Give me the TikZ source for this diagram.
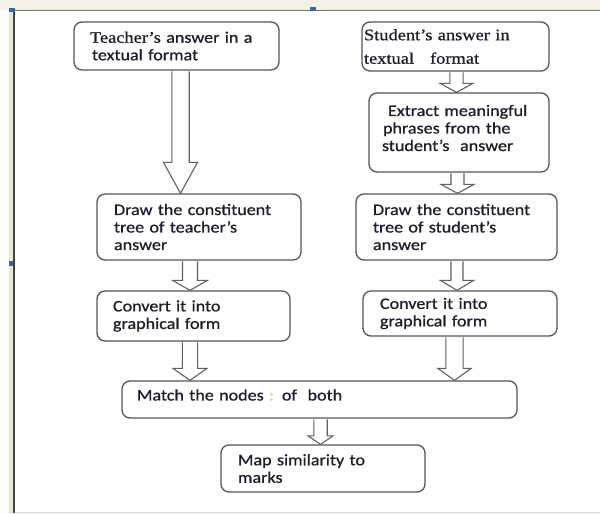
\documentclass[tikz,border=0pt]{standalone}
\usepackage{fontspec}
\setmainfont{Carlito}[FakeStretch=1.13,FakeBold=0.7]
\newfontfamily\camb{Liberation Serif}[FakeStretch=1.15,FakeBold=0.7]
\usetikzlibrary{calc}
\definecolor{boxline}{HTML}{555555}
\definecolor{arrline}{HTML}{606060}
\definecolor{txt}{HTML}{1C1C2A}
\definecolor{topstrip}{HTML}{F4F1E6}
\definecolor{leftstrip}{HTML}{EDE6D0}
\definecolor{topline}{HTML}{777777}
\definecolor{leftline}{HTML}{3C4650}
\definecolor{botline}{HTML}{D6D6D6}
\definecolor{bluemark}{HTML}{3E64A0}
\definecolor{faint}{HTML}{E8C8A0}
\tikzset{
  box/.style={draw=boxline, line width=1.3pt, rounded corners=8pt, fill=white,
    inner xsep=0pt, inner ysep=0pt, align=left, text=txt,
    font=\fontsize{16pt}{17.5pt}\selectfont},
  blockarr/.style={draw=arrline, line width=1.1pt, fill=white, line join=miter}
}
\newcommand{\barrow}[6]{%
  \draw[blockarr] let \p1=(#2.south), \p2=(#3.north) in
    (#1pt-#4pt,\y1-0.6pt) -- (#1pt-#4pt,\y2+#6pt) -- (#1pt-#5pt,\y2+#6pt)
    -- (#1pt,\y2) -- (#1pt+#5pt,\y2+#6pt) -- (#1pt+#4pt,\y2+#6pt)
    -- (#1pt+#4pt,\y1-0.6pt);}
\begin{document}
\begin{tikzpicture}[x=1pt,y=-1pt]
\useasboundingbox (0,0) rectangle (600,514);
% window frame
\fill[topstrip] (0,0) rectangle (600,9.5);
\fill[leftstrip] (9,9.5) rectangle (13.2,514);
\draw[line width=1.4pt, topline] (13,10.2) -- (600,10.2);
\draw[line width=1.8pt, leftline] (14.2,10) -- (14.2,513);
\draw[line width=1.3pt, botline] (15,512.5) -- (600,512.5);
\fill[bluemark] (9,7.5) rectangle (15,11.5);
\fill[bluemark] (310,7) rectangle (316,11);
\fill[bluemark] (9,261) rectangle (13,266);
% boxes
\node[box, minimum width=205pt, minimum height=48pt, text width=205pt] (t1) at (176.5,46)
  {\hspace*{16pt}{\camb Teacher’s} answer in a\\\hspace*{18pt}textual format};
\node[box, minimum width=187pt, minimum height=49pt, text width=187pt] (s1) at (455.5,46.5)
  {\vspace*{6pt}\camb\hspace*{2pt}Student’s answer in\\\hspace*{2pt}textual\ \ \ format};
\node[box, minimum width=180pt, minimum height=79pt, text width=180pt] (s2) at (459,132.5)
  {\hspace*{19pt}Extract meaningful\\\hspace*{14pt}phrases from the\\\hspace*{13pt}student’s\ \ answer\par\vspace*{9pt}};
\node[box, minimum width=204pt, minimum height=66pt, text width=204pt] (t2) at (199,227)
  {\hspace*{17pt}Draw the constituent\\\hspace*{17pt}tree of teacher’s\\\hspace*{17pt}answer};
\node[box, minimum width=201pt, minimum height=66pt, text width=201pt] (s3) at (456.5,227)
  {\hspace*{17pt}Draw the constituent\\\hspace*{17pt}tree of student’s\\\hspace*{17pt}answer};
\node[box, minimum width=193pt, minimum height=50pt, text width=193pt] (t3) at (193.5,316)
  {\hspace*{16pt}Convert it into\\\hspace*{16pt}graphical form};
\node[box, minimum width=194pt, minimum height=45pt, text width=194pt] (s4) at (460,313.5)
  {\hspace*{17pt}Convert it into\\\hspace*{17pt}graphical form};
\node[box, minimum width=395pt, minimum height=37pt, text width=395pt] (m) at (319.5,399.5)
  {\hspace*{15pt}Match the nodes {\color{faint}:} of\ \ both\par\vspace*{9pt}};
\node[box, minimum width=204pt, minimum height=47pt, text width=204pt] (p) at (323,468.5)
  {\hspace*{17pt}Map similarity to\\\hspace*{17pt}marks};
% block arrows
\barrow{180.5}{t1}{t2}{8.7}{17}{31}
\barrow{456.5}{s1}{s2}{6.6}{16.5}{9}
\barrow{457.5}{s2}{s3}{6.5}{16.5}{9}
\barrow{190}{t2}{t3}{7.5}{17.5}{10}
\barrow{457}{s3}{s4}{6}{16.7}{10}
\barrow{190}{t3}{m}{7.6}{17}{12}
\barrow{454.5}{s4}{m}{8.6}{16.7}{12}
\barrow{320.5}{m}{p}{6.7}{12.5}{8.5}
\end{tikzpicture}
\end{document}
